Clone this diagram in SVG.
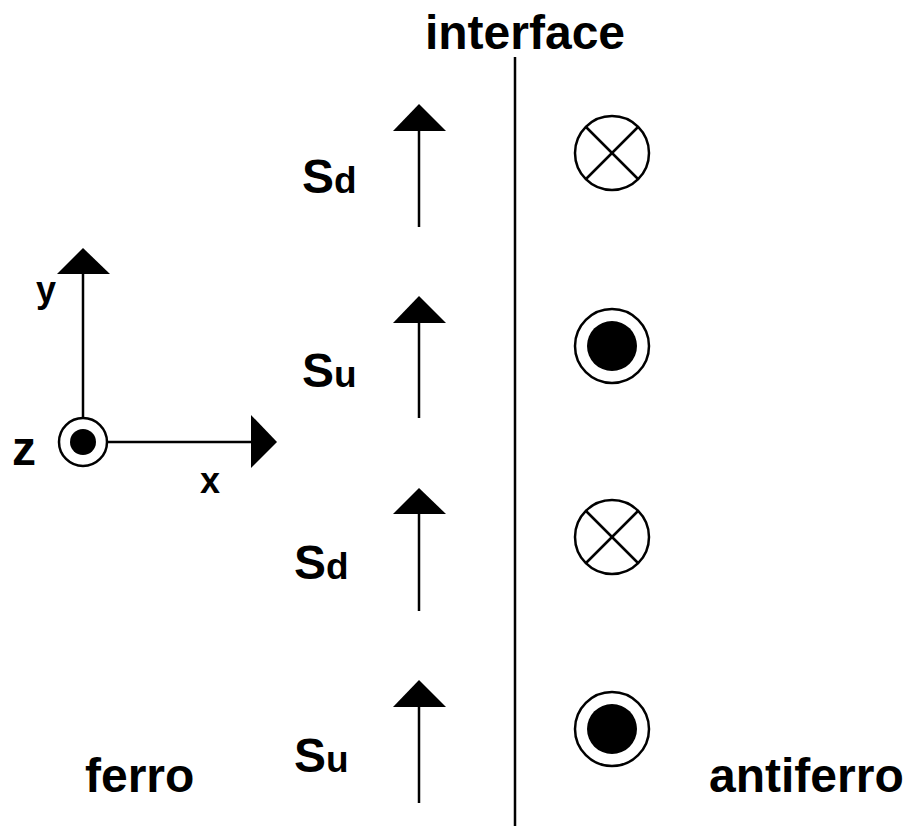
<svg xmlns="http://www.w3.org/2000/svg" width="917" height="826" viewBox="0 0 917 826">
<style>
text{font-family:"Liberation Sans",Arial,sans-serif;font-weight:bold;fill:#000}
.lbl{font-size:48px}
.sub{font-size:37px}
.ax{font-size:36px}
.ln{stroke:#000;stroke-width:2.5;fill:none}
.head{fill:#000}
.ring{fill:#fff;stroke:#000;stroke-width:2.5}
</style>
<rect width="917" height="826" fill="#fff"/>
<g id="interface">
<line class="ln" x1="515" y1="57" x2="515" y2="826"/>
<text class="lbl" x="525" y="49" text-anchor="middle">interface</text>
</g>
<g id="axes">
<line class="ln" x1="83" y1="418" x2="83" y2="272"/>
<polygon class="head" points="83,248 110,274 57,274"/>
<line class="ln" x1="107" y1="442" x2="253" y2="442"/>
<polygon class="head" points="277,442 251,415 251,468"/>
<circle class="ring" cx="83" cy="442" r="24"/>
<circle class="head" cx="83" cy="442" r="13"/>
<text class="ax" x="46" y="302" text-anchor="middle">y</text>
<text class="lbl" x="24" y="465" text-anchor="middle">z</text>
<text class="ax" x="210" y="493" text-anchor="middle">x</text>
</g>
<g id="connectors">
<line class="ln" x1="419" y1="129" x2="419" y2="227"/>
<polygon class="head" points="419,104 446,131 393,131"/>
<line class="ln" x1="419" y1="321" x2="419" y2="418"/>
<polygon class="head" points="419,296 446,323 393,323"/>
<line class="ln" x1="419" y1="512" x2="419" y2="611"/>
<polygon class="head" points="419,488 446,514 393,514"/>
<line class="ln" x1="419" y1="705" x2="419" y2="803"/>
<polygon class="head" points="419,680 446,707 393,707"/>
</g>
<g id="spin1"><text x="302" y="193"><tspan class="lbl">S</tspan><tspan class="sub">d</tspan></text></g>
<g id="spin2"><text x="302" y="387"><tspan class="lbl">S</tspan><tspan class="sub">u</tspan></text></g>
<g id="spin3"><text x="294" y="579"><tspan class="lbl">S</tspan><tspan class="sub">d</tspan></text></g>
<g id="spin4"><text x="294" y="772"><tspan class="lbl">S</tspan><tspan class="sub">u</tspan></text></g>
<g id="af1">
<circle class="ring" cx="612" cy="153" r="37"/>
<line class="ln" x1="586" y1="127" x2="638" y2="179"/>
<line class="ln" x1="638" y1="127" x2="586" y2="179"/>
</g>
<g id="af2">
<circle class="ring" cx="612" cy="346" r="37"/>
<circle class="head" cx="612" cy="346" r="25"/>
</g>
<g id="af3">
<circle class="ring" cx="612" cy="537" r="37"/>
<line class="ln" x1="586" y1="511" x2="638" y2="563"/>
<line class="ln" x1="638" y1="511" x2="586" y2="563"/>
</g>
<g id="af4">
<circle class="ring" cx="612" cy="729" r="37"/>
<circle class="head" cx="612" cy="729" r="25"/>
</g>
<g id="ferro"><text class="lbl" x="85" y="792">ferro</text></g>
<g id="antiferro"><text class="lbl" x="709" y="792">antiferro</text></g>
</svg>
